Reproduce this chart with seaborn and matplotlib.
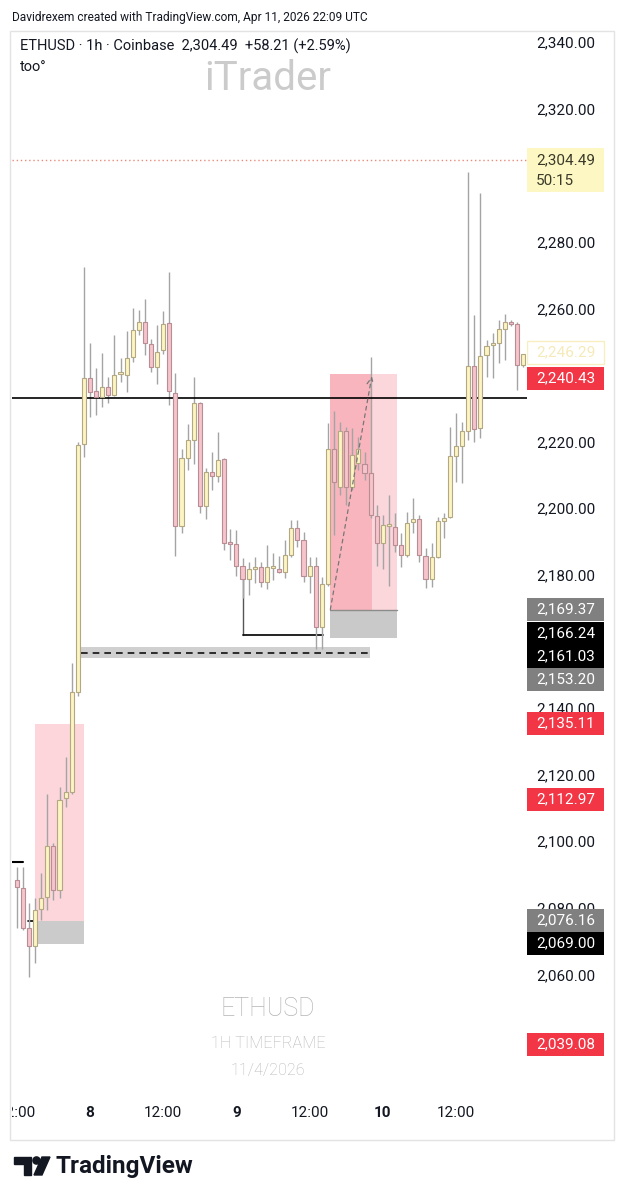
import matplotlib
matplotlib.use("Agg")
import matplotlib.pyplot as plt
import seaborn as sns
import pandas as pd
from matplotlib.patches import Rectangle, Polygon, Circle

# ---------------- data ----------------
hours = list(range(-12, 72))  # hours from 8 Apr 00:00
opens = [2088.3, 2085.9, 2073.9, 2068.5, 2079.6, 2083.2, 2098.6, 2085.3, 2113.0, 2114.8,
         2144.8, 2219.3, 2239.1, 2235.2, 2233.4, 2236.4, 2234.0, 2240.3, 2240.0, 2245.4,
         2253.5, 2255.9, 2249.3, 2242.4, 2247.5, 2255.6, 2234.6, 2194.7, 2215.1, 2220.5,
         2231.6, 2200.6, 2210.9, 2209.7, 2214.8, 2189.5, 2189.2, 2182.6, 2178.7, 2181.7,
         2182.3, 2177.8, 2182.0, 2181.7, 2180.8, 2185.9, 2194.1, 2190.4, 2179.6, 2182.6,
         2164.3, 2177.2, 2217.8, 2206.4, 2223.2, 2206.4, 2213.6, 2213.3, 2210.6, 2197.7,
         2189.5, 2194.7, 2194.4, 2188.9, 2185.9, 2195.9, 2196.8, 2185.6, 2178.7, 2185.3,
         2196.2, 2197.4, 2215.7, 2218.7, 2223.2, 2242.7, 2224.1, 2246.0, 2249.0, 2249.6,
         2253.8, 2255.6, 2255.3, 2243.0]
highs = [2092.2, 2092.2, 2081.4, 2082.9, 2090.4, 2114.2, 2099.5, 2116.3, 2125.3, 2153.5,
         2220.0, 2272.4, 2249.6, 2242.1, 2246.6, 2239.4, 2252.0, 2245.1, 2253.2, 2260.1,
         2259.5, 2262.8, 2250.8, 2255.0, 2259.2, 2270.9, 2240.6, 2217.8, 2225.3, 2239.4,
         2231.9, 2212.1, 2216.9, 2222.9, 2215.2, 2193.8, 2193.5, 2185.0, 2183.8, 2185.3,
         2183.8, 2188.9, 2186.5, 2185.6, 2190.4, 2196.5, 2196.5, 2192.9, 2185.3, 2185.3,
         2179.3, 2225.6, 2229.2, 2225.9, 2224.4, 2224.1, 2221.4, 2216.9, 2245.4, 2201.0,
         2198.0, 2204.0, 2198.6, 2192.6, 2198.9, 2203.1, 2198.0, 2188.0, 2189.5, 2197.4,
         2198.6, 2224.4, 2228.6, 2225.9, 2301.0, 2258.0, 2294.6, 2250.5, 2252.6, 2256.5,
         2258.3, 2256.5, 2255.9, 2246.3]
lows = [2073.9, 2073.3, 2059.2, 2063.4, 2076.3, 2079.3, 2082.4, 2082.9, 2110.3, 2114.2,
        2143.6, 2215.4, 2227.4, 2228.0, 2230.4, 2231.6, 2233.7, 2237.9, 2234.9, 2243.9,
        2252.0, 2246.0, 2240.9, 2237.3, 2246.3, 2231.0, 2185.6, 2192.6, 2211.5, 2213.3,
        2198.6, 2196.8, 2205.5, 2207.9, 2187.4, 2184.4, 2179.6, 2173.0, 2173.9, 2177.5,
        2176.3, 2175.7, 2178.4, 2180.5, 2179.0, 2185.3, 2188.3, 2177.8, 2174.5, 2157.7,
        2157.7, 2176.6, 2192.0, 2204.0, 2201.0, 2205.5, 2211.5, 2208.5, 2197.1, 2182.6,
        2181.7, 2176.6, 2186.8, 2182.3, 2185.3, 2192.6, 2183.8, 2176.0, 2176.3, 2185.0,
        2191.0, 2197.1, 2207.9, 2207.6, 2220.5, 2219.9, 2221.1, 2239.4, 2239.1, 2243.6,
        2244.5, 2254.7, 2235.5, 2242.4]
closes = [2086.2, 2073.9, 2068.5, 2079.3, 2082.9, 2098.6, 2085.3, 2112.4, 2114.8, 2144.8,
          2219.0, 2239.1, 2234.9, 2233.4, 2236.4, 2234.0, 2240.0, 2240.6, 2245.1, 2253.5,
          2255.9, 2249.6, 2242.4, 2246.9, 2255.3, 2235.2, 2194.7, 2215.1, 2220.5, 2231.6,
          2200.6, 2210.9, 2209.7, 2214.5, 2189.5, 2189.2, 2182.6, 2178.7, 2181.7, 2182.3,
          2177.8, 2182.3, 2182.3, 2180.8, 2185.9, 2194.1, 2190.4, 2179.6, 2182.6, 2164.3,
          2177.2, 2217.8, 2207.9, 2223.2, 2206.4, 2216.0, 2217.8, 2210.6, 2198.0, 2189.5,
          2195.0, 2195.0, 2188.9, 2185.9, 2195.6, 2196.8, 2185.9, 2178.7, 2185.3, 2196.2,
          2197.1, 2215.7, 2218.7, 2223.2, 2242.7, 2223.8, 2245.7, 2248.7, 2249.6, 2253.8,
          2255.9, 2255.3, 2243.0, 2246.3]

price_ticks = [2060, 2080, 2100, 2120, 2140, 2180, 2200, 2220,
               2260, 2280, 2320, 2340]
time_tick_hours = [-12, 0, 12, 24, 36, 48, 60]
time_tick_labels = ["12:00", "8", "12:00", "9", "12:00", "10", "12:00"]
time_tick_bold = [False, True, False, True, False, True, False]

last_price = 2304.49
countdown = "50:15"
level_line = 2233.1
left_zone = (2076.16, 2135.11)
left_base = (2069.00, 2076.16)
right_zone = (2169.37, 2240.43)
right_base = (2161.03, 2169.37)
dashed_band = (2155.0, 2158.4)
dashed_level = 2156.6
bracket_level = 2162.0

label_values = [2246.29, 2240.43, 2169.37, 2166.24, 2161.03, 2153.20,
                2135.11, 2112.97, 2076.16, 2069.00, 2039.08]
label_kinds = ["faint", "red", "gray", "black", "black", "gray",
               "red", "red", "gray", "black", "red"]
# stacked label centres on the axis (layout, pixels)
label_centres_px = [352, 378, 609, 633, 656, 679, 723, 799, 920, 943, 1044]

df = pd.DataFrame({"hour": hours, "open": opens, "high": highs,
                   "low": lows, "close": closes})

# ---------------- style ----------------
sns.set_theme(style="white")
plt.rcParams['font.family'] = ['Roboto', 'DejaVu Sans']

W, H = 620, 1200
fig = plt.figure(figsize=(6.2, 12), dpi=100)
fig.patch.set_facecolor("white")

PX_TOP, PX_BOT = 33, 1092
PX_L, PX_R, PX_AX = 12, 527, 614
PX_PER_PRICE = 66.6 / 20.0
P_AT_TOP = 2340 + (42 - PX_TOP) / PX_PER_PRICE
P_AT_BOT = 2340 - (PX_BOT - 42) / PX_PER_PRICE
PX_PER_HOUR = 6.1
H_LEFT = (PX_L - 90) / PX_PER_HOUR
H_RIGHT = (PX_R - 90) / PX_PER_HOUR

# overlay for frame / texts
ov = fig.add_axes([0, 0, 1, 1], zorder=0)
ov.set_xlim(0, W)
ov.set_ylim(H, 0)
ov.axis("off")
ov.add_patch(Rectangle((10, 31), PX_AX - 10, 1140 - 31, fill=False,
                       edgecolor="#e3e3e3", lw=1))
ov.text(12, 18, "Davidrexem created with TradingView.com, Apr 11, 2026 22:09 UTC",
        fontsize=8.6, color="#131722", va="center", ha="left")
ov.text(20, 46, "ETHUSD · 1h · Coinbase  2,304.49  +58.21 (+2.59%)",
        fontsize=10.5, color="#131722", va="center", ha="left")
ov.text(20, 67, "too°", fontsize=10.5, color="#131722", va="center", ha="left")
ov.text(268, 78, "iTrader", fontsize=29, color="#cbcbcb", va="center", ha="center")
ov.text(268, 1009, "ETHUSD", fontsize=18, fontweight="light", color="#b5b5b5",
        va="center", ha="center")
ov.text(268, 1043, "1H TIMEFRAME", fontsize=11.7, fontweight="light", color="#b5b5b5",
        va="center", ha="center")
ov.text(268, 1071, "11/4/2026", fontsize=11.7, fontweight="light", color="#b5b5b5",
        va="center", ha="center")
# TradingView logo
ov.add_patch(Polygon([(14, 1157), (31, 1157), (31, 1175), (24, 1175), (24, 1164), (14, 1164)],
                     closed=True, color="#131722"))
ov.add_patch(Circle((36.5, 1160.5), 3.6, color="#131722"))
ov.add_patch(Polygon([(42, 1157), (50, 1157), (42, 1175), (34, 1175)],
                     closed=True, color="#131722"))
ov.text(55, 1166, "TradingView", fontsize=17.5, fontweight="bold", color="#131722",
        va="center", ha="left")

# main price axes
ax = fig.add_axes([PX_L / W, 1 - PX_BOT / H, (PX_R - PX_L) / W, (PX_BOT - PX_TOP) / H],
                  zorder=1)
ax.patch.set_alpha(0)
ax.set_xlim(H_LEFT, H_RIGHT)
ax.set_ylim(P_AT_BOT, P_AT_TOP)
for s in ax.spines.values():
    s.set_visible(False)
ax.set_xticks([])
ax.yaxis.tick_right()
ax.set_yticks(price_ticks)
ax.set_yticklabels([f"{v:,.2f}" for v in price_ticks])
ax.tick_params(axis="y", length=0, pad=6.5, labelsize=11, labelcolor="#131722")
ax.grid(False)

# zones
ax.add_patch(Rectangle((-9.05, left_zone[0]), 8.05, left_zone[1] - left_zone[0],
                       facecolor="#fcd6da", edgecolor="none", zorder=1))
ax.add_patch(Rectangle((-9.05, left_base[0]), 8.05, left_base[1] - left_base[0],
                       facecolor="#cbcbcb", edgecolor="none", zorder=1))
ax.plot([-10.2, -9.05], [left_base[1], left_base[1]], color="black", lw=1.2, zorder=2)
ax.plot([H_LEFT, -11.0], [2093.7, 2093.7], color="black", lw=1.5, zorder=2)

ax.add_patch(Rectangle((39.35, right_zone[0]), 6.85, right_zone[1] - right_zone[0],
                       facecolor="#f8b5bd", edgecolor="none", zorder=1))
ax.add_patch(Rectangle((46.2, right_zone[0]), 4.15, right_zone[1] - right_zone[0],
                       facecolor="#fbd6da", edgecolor="none", zorder=1))
ax.add_patch(Rectangle((39.35, right_base[0]), 11.0, right_base[1] - right_base[0],
                       facecolor="#c9c9c9", edgecolor="none", zorder=1))
ax.plot([39.35, 50.35], [right_base[1], right_base[1]], color="#8c8c8c", lw=1, zorder=2)

ax.add_patch(Rectangle((-1.8, dashed_band[0]), 47.7, dashed_band[1] - dashed_band[0],
                       facecolor="#d0d0d0", edgecolor="none", zorder=1))
ax.plot([-1.4, 45.6], [dashed_level, dashed_level], color="#111111", lw=1.2,
        linestyle=(0, (4, 3)), zorder=2)

ax.plot([25.0, 25.0], [2178.7, bracket_level], color="#555555", lw=1, zorder=2)
ax.plot([25.0, 38.2], [bracket_level, bracket_level], color="#111111", lw=1.3, zorder=2)

ax.axhline(level_line, color="black", lw=1.2, zorder=4)
ax.axhline(last_price, color="#ec8a78", lw=1, linestyle=(0, (1, 2)), zorder=2)

ax.annotate("", xy=(46.2, 2239.6), xytext=(39.4, 2169.6),
            arrowprops=dict(arrowstyle="->", color="#777777", lw=0.9,
                            linestyle=(0, (3, 3)), shrinkA=0, shrinkB=0),
            zorder=5)

# candles
bull = df["close"] >= df["open"]
wick_col = "#a4a4a4"
ax.vlines(df["hour"], df["low"], df["high"], color=wick_col, lw=1, zorder=3)
bottoms = df[["open", "close"]].min(axis=1)
heights = (df["close"] - df["open"]).abs().clip(lower=0.5)
ax.bar(df.loc[bull, "hour"], heights[bull], bottom=bottoms[bull], width=0.66,
       color="#fcf4c2", edgecolor="#b3a883", linewidth=0.8, zorder=4)
ax.bar(df.loc[~bull, "hour"], heights[~bull], bottom=bottoms[~bull], width=0.66,
       color="#f5c5cb", edgecolor="#b88d93", linewidth=0.8, zorder=4)

# price-axis label boxes
pax = fig.add_axes([PX_R / W, 1 - PX_BOT / H, (PX_AX - PX_R) / W, (PX_BOT - PX_TOP) / H],
                   zorder=3)
pax.patch.set_alpha(0)
pax.set_xlim(0, PX_AX - PX_R)
pax.set_ylim(PX_BOT, PX_TOP)
pax.axis("off")
box_cols = {"red": "#f23645", "gray": "#808080", "black": "#000000"}
for val, kind, cy in zip(label_values, label_kinds, label_centres_px):
    if kind == "faint":
        pax.add_patch(Rectangle((0, cy - 11.5), 77, 23, facecolor="white",
                                edgecolor="#f7efbf", lw=1))
        pax.text(9, cy, f"{val:,.2f}", color="#f5eab8", fontsize=11,
                 va="center", ha="left")
    else:
        pax.add_patch(Rectangle((0, cy - 11.5), 77, 23, facecolor=box_cols[kind],
                                edgecolor="none"))
        pax.text(9, cy, f"{val:,.2f}", color="white", fontsize=11,
                 va="center", ha="left")
pax.add_patch(Rectangle((0, 148), 77, 44, facecolor="#fdf7c3", edgecolor="none"))
pax.text(9, 160, f"{last_price:,.2f}", color="#3a3a2a", fontsize=11, va="center", ha="left")
pax.text(9, 181, countdown, color="#3a3a2a", fontsize=11, va="center", ha="left")

# time axis
tax = fig.add_axes([PX_L / W, 1 - 1135 / H, (PX_AX - PX_L) / W, (1135 - PX_BOT) / H],
                   zorder=2)
tax.patch.set_alpha(0)
tax.set_xlim(H_LEFT, H_LEFT + (PX_AX - PX_L) / PX_PER_HOUR)
tax.set_ylim(1135, PX_BOT)
tax.axis("off")
for hh, lab, b in zip(time_tick_hours, time_tick_labels, time_tick_bold):
    tax.text(hh, 1113, lab, fontsize=11, fontweight="bold" if b else "normal",
             color="#131722", ha="center", va="center", clip_on=True)

fig.savefig("out.png", dpi=100, facecolor="white")
